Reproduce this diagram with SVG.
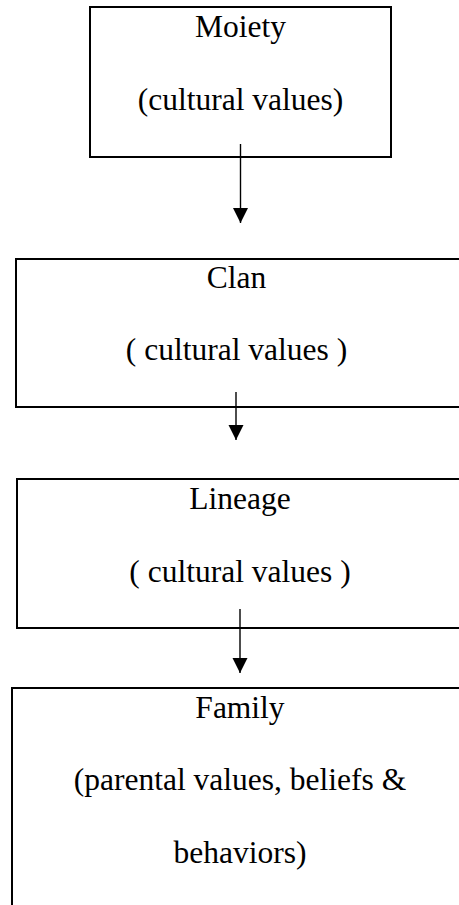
<svg xmlns="http://www.w3.org/2000/svg" width="459" height="905" viewBox="0 0 459 905">
  <defs>
    <style>
      .box { fill: none; stroke: #000; stroke-width: 2; }
      .lbl { font-family: "Liberation Serif", "DejaVu Serif", "Times New Roman", serif; font-size: 31.5px; fill: #000; text-anchor: middle; }
      .conn { stroke: #000; stroke-width: 1.4; fill: none; }
    </style>
    <marker id="arrow" markerUnits="userSpaceOnUse" markerWidth="16" markerHeight="16" refX="15" refY="7.5" orient="auto">
      <path d="M0,0 L15,7.5 L0,15 Z" fill="#000"/>
    </marker>
  </defs>
  <rect width="459" height="905" fill="#fff"/>

  <g id="moiety" font-family="Liberation Serif, serif">
    <rect class="box" x="90" y="7" width="301" height="150"/>
    <text class="lbl" font-family="Liberation Serif, serif" x="240.5" y="37">Moiety</text>
    <text class="lbl" font-family="Liberation Serif, serif" x="240.5" y="110">(cultural values)</text>
  </g>

  <g id="clan" font-family="Liberation Serif, serif">
    <rect class="box" x="16" y="259" width="470" height="148"/>
    <text class="lbl" font-family="Liberation Serif, serif" x="236.5" y="288">Clan</text>
    <text class="lbl" font-family="Liberation Serif, serif" x="236.5" y="360">( cultural values )</text>
  </g>

  <g id="lineage" font-family="Liberation Serif, serif">
    <rect class="box" x="17" y="479" width="470" height="149"/>
    <text class="lbl" font-family="Liberation Serif, serif" x="240" y="509">Lineage</text>
    <text class="lbl" font-family="Liberation Serif, serif" x="240" y="582">( cultural values )</text>
  </g>

  <g id="family" font-family="Liberation Serif, serif">
    <rect class="box" x="12" y="688" width="480" height="240"/>
    <text class="lbl" font-family="Liberation Serif, serif" x="240" y="718">Family</text>
    <text class="lbl" font-family="Liberation Serif, serif" x="240" y="790">(parental values, beliefs &amp;</text>
    <text class="lbl" font-family="Liberation Serif, serif" x="240" y="863">behaviors)</text>
  </g>

  <g id="connectors">
    <line class="conn" x1="240.5" y1="144" x2="240.5" y2="223" marker-end="url(#arrow)"/>
    <line class="conn" x1="236" y1="392" x2="236" y2="440" marker-end="url(#arrow)"/>
    <line class="conn" x1="240" y1="609" x2="240" y2="673" marker-end="url(#arrow)"/>
  </g>
</svg>
